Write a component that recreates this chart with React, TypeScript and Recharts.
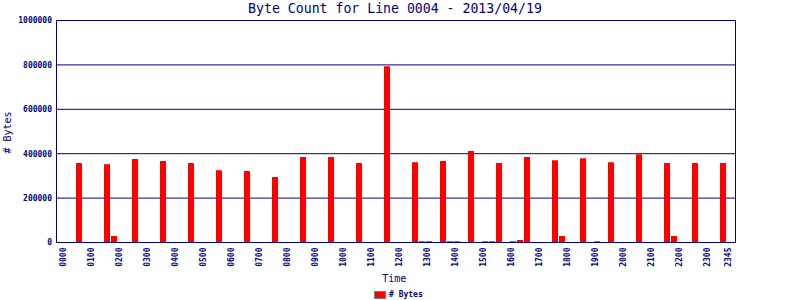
import React from "react";
import {
  BarChart,
  Bar,
  XAxis,
  YAxis,
  CartesianGrid,
  Legend,
} from "recharts";

const NAVY = "#000080";
const RED = "#ff0000";
const FONT = "'DejaVu Sans Mono', monospace";

const timeSlots: string[] = [
  "0000", "0015", "0030", "0045", "0100", "0115", "0130", "0145",
  "0200", "0215", "0230", "0245", "0300", "0315", "0330", "0345",
  "0400", "0415", "0430", "0445", "0500", "0515", "0530", "0545",
  "0600", "0615", "0630", "0645", "0700", "0715", "0730", "0745",
  "0800", "0815", "0830", "0845", "0900", "0915", "0930", "0945",
  "1000", "1015", "1030", "1045", "1100", "1115", "1130", "1145",
  "1200", "1215", "1230", "1245", "1300", "1315", "1330", "1345",
  "1400", "1415", "1430", "1445", "1500", "1515", "1530", "1545",
  "1600", "1615", "1630", "1645", "1700", "1715", "1730", "1745",
  "1800", "1815", "1830", "1845", "1900", "1915", "1930", "1945",
  "2000", "2015", "2030", "2045", "2100", "2115", "2130", "2145",
  "2200", "2215", "2230", "2245", "2300", "2315", "2330", "2345",
];

const byteCounts: number[] = [
  0, 0, 358000, 0, 0, 0, 353000, 29000,
  0, 0, 376000, 0, 0, 0, 367000, 0,
  0, 0, 358000, 0, 0, 0, 326000, 0,
  0, 0, 322000, 0, 0, 0, 295000, 0,
  0, 0, 385000, 0, 0, 0, 385000, 0,
  0, 0, 358000, 0, 0, 0, 794000, 0,
  0, 0, 362000, 6000, 6000, 0, 367000, 6000,
  6000, 0, 412000, 0, 6000, 6000, 358000, 0,
  6000, 11000, 385000, 0, 0, 0, 371000, 29000,
  0, 0, 380000, 0, 6000, 0, 362000, 0,
  0, 0, 398000, 0, 0, 0, 358000, 29000,
  0, 0, 358000, 0, 0, 0, 358000, 0,
];

const xTickLabels: string[] = [
  "0000", "0100", "0200", "0300", "0400", "0500", "0600", "0700",
  "0800", "0900", "1000", "1100", "1200", "1300", "1400", "1500",
  "1600", "1700", "1800", "1900", "2000", "2100", "2200", "2300", "2345",
];

const yTicks: number[] = [0, 200000, 400000, 600000, 800000, 1000000];

const seriesName = "# Bytes";
const chartTitle = "Byte Count for Line 0004 - 2013/04/19";

const data = timeSlots.map((t, i) => ({ t, bytes: byteCounts[i] }));

const XTick = (props: any) => {
  const { x, y, payload } = props;
  return (
    <text
      transform={`translate(${x - 1.3},${y + 5}) rotate(-90)`}
      textAnchor="end"
      dy="0.35em"
      fill={NAVY}
      fontSize={8}
      fontWeight="bold"
      fontFamily={FONT}
    >
      {payload.value}
    </text>
  );
};

const YTick = (props: any) => {
  const { x, y, payload } = props;
  return (
    <text
      x={x}
      y={y}
      textAnchor="end"
      dy="0.35em"
      fill={NAVY}
      fontSize={8}
      fontWeight="bold"
      fontFamily={FONT}
    >
      {payload.value}
    </text>
  );
};

const YLabel = (props: any) => {
  const vb = props.viewBox || { x: 0, y: 0, width: 0, height: 0 };
  const cx = vb.x + 7;
  const cy = vb.y + vb.height / 2 + 1;
  return (
    <text
      x={cx}
      y={cy}
      transform={`rotate(-90, ${cx}, ${cy})`}
      textAnchor="middle"
      dy="0.35em"
      fill={NAVY}
      fontSize={10}
      fontFamily={FONT}
    >
      {seriesName}
    </text>
  );
};

const XLabel = (props: any) => {
  const vb = props.viewBox || { x: 0, y: 0, width: 0, height: 0 };
  return (
    <text
      x={vb.x + vb.width / 2 - 1.8}
      y={vb.y + 39}
      textAnchor="middle"
      fill={NAVY}
      fontSize={10}
      fontFamily={FONT}
    >
      Time
    </text>
  );
};

const LegendContent = (props: any) => {
  const items = props.payload || [];
  return (
    <div style={{ display: "flex", alignItems: "center", height: 8 }}>
      {items.map((it: any, i: number) => (
        <div key={i} style={{ display: "flex", alignItems: "center" }}>
          <span
            style={{
              display: "inline-block",
              width: 10,
              height: 6,
              background: it.color || RED,
              border: "1px solid #808080",
            }}
          />
          <span
            style={{
              marginLeft: 3,
              fontFamily: FONT,
              fontSize: 8,
              fontWeight: "bold",
              lineHeight: "8px",
              color: NAVY,
              whiteSpace: "nowrap",
            }}
          >
            {it.value}
          </span>
        </div>
      ))}
    </div>
  );
};

export default function App() {
  return (
    <div
      style={{
        position: "absolute",
        left: 0,
        top: 0,
        width: 800,
        height: 300,
        background: "#ffffff",
      }}
    >
      <svg
        width={800}
        height={20}
        style={{ position: "absolute", left: 0, top: 0, pointerEvents: "none" }}
      >
        <text
          x={395}
          y={13}
          textAnchor="middle"
          fill={NAVY}
          fontSize={13.2}
          fontFamily={FONT}
        >
          {chartTitle}
        </text>
      </svg>
      <BarChart
        width={800}
        height={300}
        data={data}
        margin={{ top: 20.5, right: 63.5, bottom: 0.5, left: 0.5 }}
        barCategoryGap={0}
      >
        <CartesianGrid
          horizontal={true}
          vertical={false}
          stroke={NAVY}
          strokeWidth={1}
        />
        <XAxis
          dataKey="t"
          ticks={xTickLabels}
          interval={0}
          tick={<XTick />}
          tickLine={false}
          tickSize={0}
          tickMargin={0}
          axisLine={{ stroke: NAVY, strokeWidth: 1 }}
          height={57}
          padding={{ left: 4.5, right: 2.5 }}
          label={<XLabel />}
        />
        <YAxis
          domain={[0, 1000000]}
          ticks={yTicks}
          interval={0}
          tick={<YTick />}
          tickLine={false}
          tickSize={0}
          tickMargin={4.5}
          axisLine={{ stroke: NAVY, strokeWidth: 1 }}
          width={56}
          allowDataOverflow={true}
          label={<YLabel />}
        />
        <YAxis
          yAxisId="r"
          orientation="right"
          domain={[0, 1000000]}
          width={1}
          tick={false}
          tickLine={false}
          axisLine={{ stroke: NAVY, strokeWidth: 1 }}
        />
        <Legend
          layout="horizontal"
          verticalAlign="middle"
          align="center"
          wrapperStyle={{ top: 291, left: 374, width: 80, height: 8 }}
          content={<LegendContent />}
        />
        <Bar
          dataKey="bytes"
          name={seriesName}
          fill={RED}
          barSize={6}
          isAnimationActive={false}
        />
      </BarChart>
    </div>
  );
}
